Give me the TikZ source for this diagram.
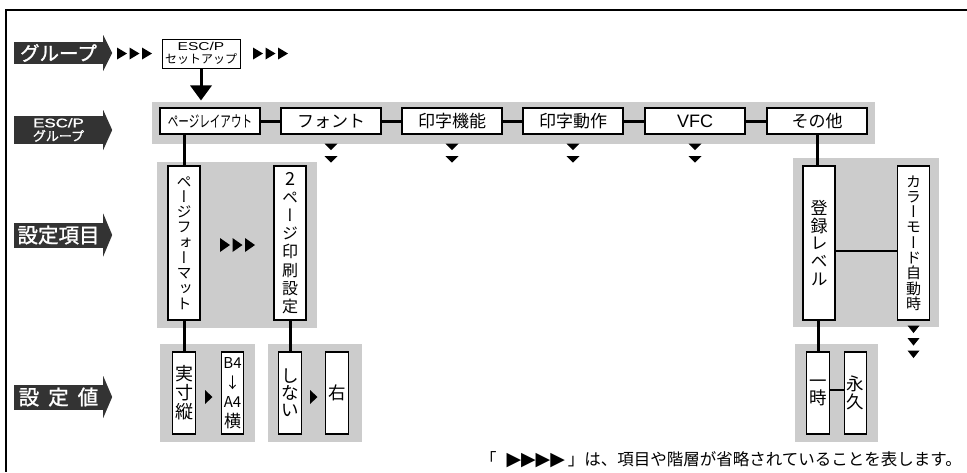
\documentclass[tikz,border=0pt]{standalone}
\usepackage{fontspec}
\setmainfont{Noto Sans CJK JP}
\newfontfamily\vjp[RawFeature=+vert]{Noto Sans CJK JP}
\newfontfamily\jpb[FakeBold=1.2]{Noto Sans CJK JP}
\newfontfamily\lsans{Liberation Sans}
\newfontfamily\lsansb[FakeBold=1.2]{Liberation Sans}
\newfontfamily\dejavu{DejaVu Sans}
\begin{document}
\begin{tikzpicture}[x=1pt,y=-1pt,
  box/.style={draw, line width=1.1pt, fill=white, inner sep=0pt, align=center},
  hbox/.style={box, minimum width=100pt, minimum height=26pt, font=\fontsize{17}{17}\selectfont},
  vbox/.style={box, minimum width=32pt, minimum height=154pt},
  sbox/.style={box, minimum width=22.5pt, minimum height=82pt},
  conn/.style={line width=3pt},
  band/.style={fill=black!20},
  lab/.style={fill=black!80, text=white, inner sep=0pt, minimum width=89pt, align=center},
  labhead/.style={fill=black!80}
]
\useasboundingbox (0,0) rectangle (967,472);
\fill[white] (0,0) rectangle (967,472);
% frame
\draw[line width=2pt] (967,10) -- (6,10) -- (6,472);

% left labels
\node[lab, minimum height=22pt, font=\fontsize{19.5}{20}\jpb] (g1) at (58.5,53) {グループ};
\fill[labhead] (g1.east) ++(0,-18) -- ++(9,18) -- ++(-9,18) -- cycle;
\node[lab, minimum height=28pt, font=\fontsize{13}{13.5}\jpb] (g2) at (58.5,130) {{\lsansb\fontsize{12.5}{13.5}\selectfont\scalebox{1.35}[1]{ESC/P}}\\グループ};
\fill[labhead] (g2.east) ++(0,-20) -- ++(9,20) -- ++(-9,20) -- cycle;
\node[lab, minimum height=25pt, font=\fontsize{20.5}{20}\jpb] (g3) at (58.5,235) {設定項目};
\fill[labhead] (g3.east) ++(0,-21.5) -- ++(9,21.5) -- ++(-9,21.5) -- cycle;
\node[lab, minimum height=25pt, font=\fontsize{20.5}{20}\jpb] (g4) at (58.5,397) {設\hspace{9pt}定\hspace{9pt}値};
\fill[labhead] (g4.east) ++(0,-21) -- ++(9,21) -- ++(-9,21) -- cycle;

% top row
\foreach \x in {117,129.5,142,253,265.5,278}
  \fill (\x,47.5) -- (\x+10,53.5) -- (\x,59.5) -- cycle;
\node[box, line width=0.8pt, minimum width=78pt, minimum height=29pt, font=\fontsize{12}{13}\selectfont] (esc) at (201,53.5) {{\lsans\fontsize{11.5}{13}\selectfont\scalebox{1.35}[1]{ESC/P}}\\セットアップ};
\draw[line width=3pt] (esc.south) -- ++(0,18);
\fill (esc.south) ++(-11,17) -- ++(22,0) -- ++(-11,15) -- cycle;

% ESC/P group row
\fill[band] (152,102) rectangle (875,144);
\node[hbox] (pl) at (210,121) {\fontsize{16}{16}\selectfont\scalebox{0.66}[1]{ページレイアウト}};
\node[hbox] (fo) at (331,121) {フォント};
\node[hbox] (ik) at (452,121) {印字機能};
\node[hbox] (id) at (573,121) {印字動作};
\node[hbox] (vfc) at (695,121) {\lsans\fontsize{18}{18}\selectfont VFC};
\node[hbox] (so) at (817,121) {その他};
\foreach \a/\b in {pl/fo,fo/ik,ik/id,id/vfc,vfc/so}
  \draw[conn] (\a.east) -- (\b.west);
\foreach \b in {fo,ik,id,vfc}{
  \fill (\b.south) ++(-6.5,9) -- ++(13,0) -- ++(-6.5,6.5) -- cycle;
  \fill (\b.south) ++(-6.5,21.5) -- ++(13,0) -- ++(-6.5,6.5) -- cycle;
}

% setting items
\fill[band] (157,162) rectangle (317,328);
\fill[band] (793,158) rectangle (939,327);
\node[vbox, font=\fontsize{15}{15.3}\vjp] (pf) at (184,243) {ペ\\ー\\ジ\\フ\\ォ\\ー\\マ\\ッ\\ト};
\node[vbox, font=\fontsize{16}{18.2}\vjp] (p2) at (290,243) {{\fontsize{18}{18.2}\selectfont 2}\\ペ\\ー\\ジ\\印\\刷\\設\\定};
\node[vbox, font=\fontsize{17}{17.8}\vjp] (tr) at (819,243) {登\\録\\レ\\ベ\\ル};
\node[vbox, font=\fontsize{15}{15.3}\vjp] (cm) at (913.5,243) {カ\\ラ\\ー\\モ\\ー\\ド\\自\\動\\時};
\foreach \x in {220,232.5,245}
  \fill (\x,238) -- (\x+10,245) -- (\x,252) -- cycle;
\foreach \d in {5,17.5,30}
  \fill (cm.south) ++(-6,\d) -- ++(12,0) -- ++(-6,7.5) -- cycle;

% setting values
\fill[band] (160,344) rectangle (255,442);
\fill[band] (268,344) rectangle (362,442);
\fill[band] (795,344) rectangle (878,442);
\node[sbox, font=\fontsize{18}{19}\selectfont] (js) at (184,393) {実\\寸\\縦};
\node[sbox, font=\fontsize{15}{19.5}\selectfont] (b4) at (232.5,393) {B4\\↓\\A4\\{\fontsize{17}{19.5}\selectfont 横}};
\node[sbox, font=\fontsize{17.5}{17}\selectfont] (sn) at (290,393) {し\\な\\い};
\node[sbox, font=\fontsize{17.5}{17}\selectfont] (mg) at (337,393) {右};
\node[sbox, font=\fontsize{17.5}{17.5}\selectfont] (it) at (818,393) {一\\時};
\node[sbox, font=\fontsize{17.5}{17.5}\selectfont] (ek) at (855.5,393) {永\\久};
\fill (205,390) -- (212.5,397) -- (205,404) -- cycle;
\fill (310,390) -- (317.5,397) -- (310,404) -- cycle;

% vertical connectors
\draw[conn] (pl.south -| pf.north) -- (pf.north);
\draw[conn] (pf.south) -- (js.north);
\draw[conn] (p2.south) -- (sn.north);
\draw[conn] (so.south) -- (so.south |- tr.north);
\draw[conn] (it.north |- tr.south) -- (it.north);
\draw[line width=2.5pt] ([yshift=-8pt]tr.east) -- ([yshift=-8pt]cm.west);
\draw[line width=2.5pt] ([yshift=3pt]it.east) -- ([yshift=3pt]ek.west);

% caption
\node[anchor=east, inner sep=0pt, font=\fontsize{16.5}{16.5}\selectfont] (cap) at (962,460) {「\hspace{10pt}{\dejavu\fontsize{19}{16.5}\selectfont ▶▶▶▶}\hspace{3pt}」は、項目や階層が省略されていることを表します。};
\end{tikzpicture}
\end{document}
